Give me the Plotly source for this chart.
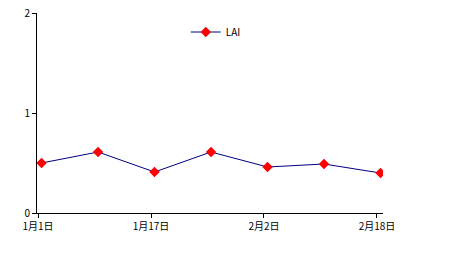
import plotly.graph_objects as go

dates = ["2000-01-01 12:00", "2000-01-09 12:00", "2000-01-17 12:00", "2000-01-25 12:00",
         "2000-02-02 12:00", "2000-02-10 12:00", "2000-02-18 12:00"]
lai = [0.50, 0.61, 0.41, 0.61, 0.46, 0.49, 0.40]
tick_dates = ["2000-01-01", "2000-01-17", "2000-02-02", "2000-02-18"]
tick_labels = ["1月1日", "1月17日", "2月2日", "2月18日"]

font = "Noto Sans CJK SC, SimSun, sans-serif"

fig = go.Figure()
fig.add_trace(go.Scatter(
    x=dates, y=lai, name="LAI", mode="lines+markers",
    line=dict(color="#000080", width=1),
    marker=dict(symbol="diamond", size=8, color="#ff0000"),
))

fig.update_layout(
    width=450, height=264,
    margin=dict(l=37, r=67, t=13, b=51, autoexpand=False),
    paper_bgcolor="white", plot_bgcolor="white",
    font=dict(family=font, size=10, color="black"),
    showlegend=True,
    legend=dict(x=0.43, y=0.905, xanchor="left", yanchor="middle",
                bgcolor="rgba(0,0,0,0)", font=dict(size=10, family=font),
                itemwidth=30, tracegroupgap=0),
    xaxis=dict(
        type="date", automargin=False,
        range=["1999-12-31 20:30", "2000-02-18 20:30"],
        tickvals=tick_dates, ticktext=tick_labels,
        showgrid=False, zeroline=False,
        showline=True, linecolor="black", linewidth=1,
        ticks="outside", ticklen=4, tickcolor="black",
        tickfont=dict(size=10),
    ),
    yaxis=dict(
        range=[0, 2], tickvals=[0, 1, 2], automargin=False,
        showgrid=False, zeroline=False,
        showline=True, linecolor="black", linewidth=1,
        ticks="outside", ticklen=4, tickcolor="black",
        tickfont=dict(size=10),
    ),
)

fig.write_html("out.html")
